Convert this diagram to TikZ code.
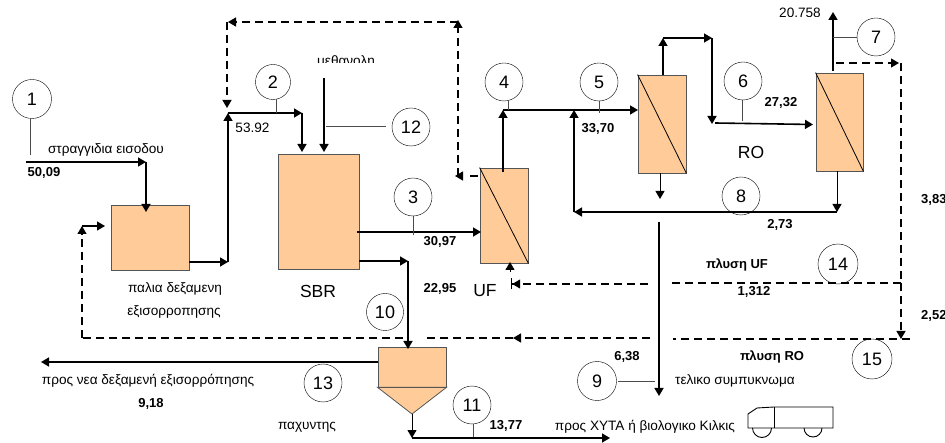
\documentclass[tikz,border=0pt]{standalone}
\usepackage{fontspec}
\setmainfont{Liberation Sans}
\usetikzlibrary{arrows.meta}
\definecolor{tankfill}{HTML}{FFCC99}
\definecolor{tankline}{HTML}{555555}
\tikzset{
  tip/.style={-{Triangle[length=8pt,width=9pt]}},
  flow/.style={draw=black,line width=1.6pt,tip},
  thinflow/.style={draw=black,line width=1pt,tip},
  plainflow/.style={draw=black,line width=1.6pt},
  wash/.style={draw=black,line width=1.2pt,dash pattern=on 8pt off 5pt},
  washtip/.style={wash,tip},
  leader/.style={draw=black!70,line width=.8pt},
  tag/.style={draw=black,circle,inner sep=0pt,minimum size=38pt,font=\fontsize{18}{18}\selectfont},
  tank/.style={draw=tankline,fill=tankfill,line width=.8pt,inner sep=0pt},
  txt/.style={inner sep=0pt,font=\fontsize{13.6}{15}\selectfont},
  val/.style={inner sep=0pt,font=\fontsize{13}{15}\selectfont\bfseries},
  big/.style={inner sep=0pt,font=\fontsize{17.5}{19}\selectfont},
  truckline/.style={draw=black,line width=.9pt}
}
\begin{document}
\begin{tikzpicture}[x=1pt,y=-1pt]
\useasboundingbox (0,0) rectangle (945,443);
% tanks
\node[tank,minimum width=78pt,minimum height=65pt] (eq) at (150,237.5) {};
\node[tank,minimum width=81pt,minimum height=115pt] (sbr) at (318.5,211.5) {};
\node[tank,minimum width=48pt,minimum height=95pt] (uf) at (504,215.5) {};
\node[tank,minimum width=48pt,minimum height=98pt] (roa) at (662,124) {};
\node[tank,minimum width=47pt,minimum height=98pt] (rob) at (839.5,122) {};
\draw[black,line width=.8pt] (uf.north west) -- (uf.south east);
\draw[black,line width=.8pt] (roa.north west) -- (roa.south east);
\draw[black,line width=.8pt] (rob.north west) -- (rob.south east);
\node[tank,minimum width=68pt,minimum height=40pt] (thick) at (412,367) {};
\draw[tank] (thick.south west) -- (412,414) coordinate (thickend) -- (thick.south east) -- cycle;
% tags
\node[tag,minimum size=39pt] (t1) at (32,99) {1};
\node[tag,minimum size=35pt] (t2) at (273,82) {2};
\node[tag] (t3) at (413,197) {3};
\node[tag] (t4) at (504,82) {4};
\node[tag] (t5) at (599,82) {5};
\node[tag] (t6) at (743,81) {6};
\node[tag] (t7) at (876,37) {7};
\node[tag] (t8) at (741,196) {8};
\node[tag,minimum size=39pt] (t9) at (597,381) {9};
\node[tag,minimum size=37pt] (t10) at (385,312) {10};
\node[tag] (t11) at (472,405) {11};
\node[tag] (t12) at (411,127) {12};
\node[tag] (t13) at (323,383) {13};
\node[tag,minimum size=40pt] (t14) at (838,264) {14};
\node[tag,minimum size=40pt] (t15) at (872,359) {15};
% junction points
\coordinate (in0) at (26,162); \coordinate (in1) at (146,162);
\coordinate (eqtop) at (146,212);
\coordinate (eqout) at (189,262); \coordinate (j1) at (228,262);
\coordinate (j2) at (228,113); \coordinate (j3) at (302,113);
\coordinate (sbrin) at (302,152);
\coordinate (meth) at (324,78); \coordinate (methin) at (324,152);
\coordinate (sbra) at (357,232); \coordinate (ufin) at (481,232);
\coordinate (sbrb) at (359,261); \coordinate (j4) at (408,261);
\coordinate (thin) at (408,349);
\coordinate (thl) at (378,362); \coordinate (to13) at (41,362);
\coordinate (j5) at (412,438); \coordinate (toxyta) at (610,438);
\coordinate (ufo) at (503,172); \coordinate (j6) at (503,110);
\coordinate (roain) at (638,110);
\coordinate (j7) at (574,212); \coordinate (j8) at (574,110);
\coordinate (j9) at (837,212); \coordinate (robb) at (837,171);
\coordinate (roat) at (663,75); \coordinate (j10) at (663,38);
\coordinate (j11) at (712,38); \coordinate (j12) at (712,124);
\coordinate (j13) at (715,123); \coordinate (robin) at (813,124.5);
\coordinate (roab) at (660,173); \coordinate (roadn) at (660,199);
\coordinate (robt) at (833,71); \coordinate (permeate) at (833,12);
\coordinate (conc0) at (659,222); \coordinate (conc1) at (659,396);
% solid flows
\draw[flow] (in0) -- (in1);
\draw[flow] (in1) -- (eqtop);
\draw[flow] (eqout) -- (j1);
\draw[flow] (j1) -- (j2);
\draw[flow] (j2) -- (j3);
\draw[flow] (j3) -- (sbrin);
\draw[flow] (meth) -- (methin);
\draw[flow] (sbra) -- (ufin);
\draw[flow] (sbrb) -- (j4);
\draw[flow] (j4) -- (thin);
\draw[flow] (thl) -- (to13);
\draw[thinflow] (thickend) -- (j5);
\draw[flow] (j5) -- (toxyta);
\draw[flow] (ufo) -- (j6);
\draw[flow] (j6) -- (roain);
\draw[flow] (j7) -- (j8);
\draw[flow] (j9) -- (j7);
\draw[thinflow] (robb) -- (j9);
\draw[flow] (roat) -- (j10);
\draw[flow] (j10) -- (j11);
\draw[flow] (j11) -- (j12);
\draw[flow] (j13) -- (robin);
\draw[thinflow] (roab) -- (roadn);
\draw[flow] (robt) -- (permeate);
\draw[flow] (conc0) -- (conc1);
% leaders
\draw[leader] (t1.south) ++(-2,0) -- (30,155);
\draw[leader] (276,99) -- (276,113);
\draw[leader] (t3.south) -- (413,235);
\draw[leader] (508,101) -- (508,110);
\draw[leader] (t5.south) -- (599,113);
\draw[leader] (t6.south) ++(-1,0) -- (742,121);
\draw[leader] (t7.west) -- (833,37);
\draw[leader] (618,381) -- (655,381);
\draw[leader] (326,126) -- (386,126);
\draw[leader] (473,424) -- (473,437);
% dashed washing lines
\coordinate (w0) at (478,176); \coordinate (w1) at (470,176);
\coordinate (w2) at (458,176); \coordinate (w3) at (458,20);
\coordinate (w4) at (458,22); \coordinate (w5) at (228,22);
\coordinate (w6) at (227,22); \coordinate (w7) at (227,108);
\draw[wash] (w0) -- (w1);
\draw[wash,{Triangle[length=8pt,width=9pt]}-] (455,176) -- (w2);
\draw[washtip] (w2) -- (w3);
\draw[washtip] (w4) -- (w5);
\draw[washtip] (w6) -- (w7);
\coordinate (r0) at (836,63); \coordinate (r1) at (899,63);
\coordinate (r2) at (901,63); \coordinate (r3) at (901,339);
\coordinate (r4) at (901,283); \coordinate (r5) at (668,283);
\coordinate (r6) at (648,284); \coordinate (r7) at (511,284);
\coordinate (r8) at (910,339); \coordinate (r9) at (673,339);
\coordinate (r10) at (650,338); \coordinate (r11) at (427,338);
\coordinate (r12) at (403,338); \coordinate (r13) at (82,338);
\coordinate (r14) at (82,226); \coordinate (r15) at (105,226);
\draw[washtip] (r0) -- (r1);
\draw[wash] (r2) -- (r4);
\draw[washtip] (r4) -- (r3);
\draw[wash] (r4) -- (r5);
\draw[wash,-{Triangle[length=8pt,width=9pt]Bar[width=11pt,length=1pt]}] (r6) -- (r7);
\draw[wash] (r8) -- (r9);
\draw[washtip] (r10) -- (513,338);
\draw[wash] (513,338) -- (r11);
\draw[wash] (r12) -- (r13);
\draw[washtip] (r13) -- (r14);
\draw[flow,line width=1.2pt] (r14) -- (r15);
\draw[thinflow] (510,272) -- (510,262);
% truck
\coordinate (trA) at (774,407);\coordinate (trB) at (833,407);\coordinate (trC) at (833,428);
\coordinate (trD) at (748,428);\coordinate (trE) at (748,414);\coordinate (trF) at (757,408);
\draw[truckline] (trE) -- (trF) -- (trA) -- (trB) -- (trC) -- (trD) -- cycle;
\draw[truckline] (trA) -- (774,428);
\draw[truckline] (752.5,428) arc[start angle=180,end angle=360,radius=9.5pt];
\draw[truckline] (804,428) arc[start angle=180,end angle=360,radius=9pt];
% texts
\node[txt] (l1) at (106,150) {στραγγιδια εισοδου};
\node[val] (v1) at (44,173) {50,09};
\node[txt] (l2) at (175,289) {παλια δεξαμενη};
\node[txt] (l3) at (174,312) {εξισορροπησης};
\node[big] (l4) at (318,291) {SBR};
\node[big] (l5) at (485,291) {UF};
\node[big] (l6) at (751,152) {RO};
\node[val] (v3) at (440,242) {30,97};
\node[val] (v10) at (440,289) {22,95};
\node[val] (v5) at (598,129) {33,70};
\node[val] (v6) at (781,103) {27,32};
\node[val] (v8) at (780,225) {2,73};
\node[val,anchor=west] (v7r) at (921,200) {3,83};
\node[val,anchor=west] (v15r) at (921,316) {2,52};
\node[val] (l7) at (737,265) {πλυση UF};
\node[val] (v14) at (754,292) {1,312};
\node[val] (l8) at (772,357) {πλυση RO};
\node[val] (v9) at (627,357) {6,38};
\node[txt] (l9) at (735,381) {τελικο συμπυκνωμα};
\node[txt] (l10) at (148,381) {προς νεα δεξαμενή εξισορρόπησης};
\node[val] (v13) at (151,404) {9,18};
\node[txt] (l11) at (307,427) {παχυντης};
\node[val] (v11) at (506,426) {13,77};
\node[txt] (l12) at (645,427) {προς ΧΥΤΑ ή βιολογικο Κιλκις};
% texts cut off at their foot
\begin{scope}
\clip (220,115) rectangle (290,132);
\node[txt,anchor=base] (v2) at (252.5,133) {53,92};
\end{scope}
\begin{scope}
\clip (300,45) rectangle (400,63);
\node[txt,anchor=base] (l13) at (346,66) {μεθανολη};
\end{scope}
\begin{scope}
\clip (760,0) rectangle (826,16.5);
\node[txt,anchor=base] (v7) at (800,17.5) {20,758};
\end{scope}
\end{tikzpicture}
\end{document}
